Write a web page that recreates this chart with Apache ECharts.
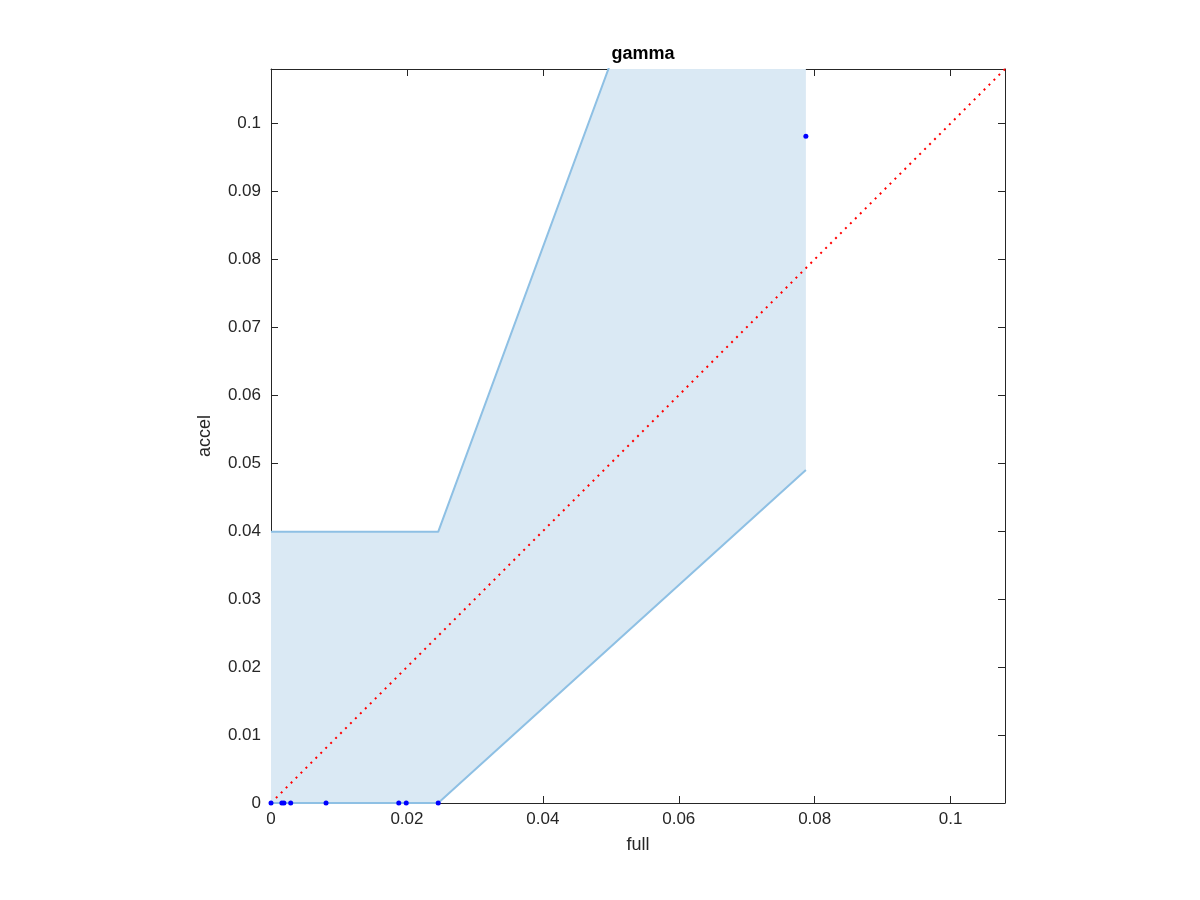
<!DOCTYPE html>
<html>
<head>
<meta charset="utf-8">
<script src="https://cdn.jsdelivr.net/npm/echarts@6/dist/echarts.min.js"></script>
<style>html,body{margin:0;padding:0;background:#fff}#c{width:1200px;height:900px}</style>
</head>
<body>
<div id="c"></div>
<script>
// Data
var pointsX = [0, 0.0016, 0.0019, 0.0029, 0.0081, 0.0188, 0.0199, 0.0246, 0.0787];
var pointsY = [0, 0, 0, 0, 0, 0, 0, 0, 0.0981];
var bandX = [0, 0.0246, 0.0787];
var bandLower = [0, 0, 0.049];
var bandUpper = [0.0399, 0.0399, 0.187];
var diagX = [0, 0.108];
var diagY = [0, 0.108];
var xTicks = [0, 0.02, 0.04, 0.06, 0.08, 0.1];
var yTicks = [0, 0.01, 0.02, 0.03, 0.04, 0.05, 0.06, 0.07, 0.08, 0.09, 0.1];

var AXMAX = 0.108;
var FONT = '"Liberation Sans", Arial, sans-serif';
var AXC = '#262626';
var BAND_LINE = '#8ec0e4';
var BAND_FILL = '#dae9f4';

function fmt(list) {
  return function (v) {
    for (var i = 0; i < list.length; i++) {
      if (Math.abs(v - list[i]) < 1e-9) return String(list[i]);
    }
    return '';
  };
}

function xAxis(pos, show) {
  return {
    type: 'value', position: pos, min: 0, max: AXMAX, interval: 0.02,
    name: show ? 'full' : '', nameLocation: 'middle', nameGap: 33,
    nameTextStyle: { fontFamily: FONT, fontSize: 18, color: AXC },
    axisLine: { show: true, onZero: false, lineStyle: { color: AXC, width: 1 } },
    axisTick: { show: true, inside: true, length: 7, lineStyle: { color: AXC } },
    axisLabel: { show: show, formatter: fmt(xTicks), fontFamily: FONT, fontSize: 17, color: AXC, margin: 8, showMaxLabel: false },
    splitLine: { show: false }
  };
}
function yAxis(pos, show) {
  return {
    type: 'value', position: pos, min: 0, max: AXMAX, interval: 0.01,
    name: show ? 'accel' : '', nameLocation: 'middle', nameGap: 57, nameRotate: 90,
    nameTextStyle: { fontFamily: FONT, fontSize: 18, color: AXC },
    axisLine: { show: true, onZero: false, lineStyle: { color: AXC, width: 1 } },
    axisTick: { show: true, inside: true, length: 7, lineStyle: { color: AXC } },
    axisLabel: { show: show, formatter: fmt(yTicks), fontFamily: FONT, fontSize: 17, color: AXC, margin: 10, showMaxLabel: false },
    splitLine: { show: false }
  };
}

function pairs(xs, ys) { return xs.map(function (x, i) { return [x, ys[i]]; }); }

var chart = echarts.init(document.getElementById('c'), null, { renderer: 'canvas' });
chart.setOption({
  backgroundColor: '#fff',
  animation: false,
  title: {
    text: 'gamma', left: 638, top: 40, textAlign: 'center',
    textStyle: { fontFamily: FONT, fontSize: 18, fontWeight: 'bold', color: '#000' }
  },
  grid: { left: 271, right: 195, top: 69, bottom: 97 },
  xAxis: [xAxis('bottom', true), xAxis('top', false)],
  yAxis: [yAxis('left', true), yAxis('right', false)],
  series: [
    {
      type: 'custom', name: 'bandFill', clip: true, z: 1,
      data: [0],
      renderItem: function (params, api) {
        var pts = [];
        for (var i = 0; i < bandX.length; i++) pts.push(api.coord([bandX[i], bandUpper[i]]));
        for (var j = bandX.length - 1; j >= 0; j--) pts.push(api.coord([bandX[j], bandLower[j]]));
        return {
          type: 'polygon',
          shape: { points: pts },
          style: { fill: BAND_FILL, stroke: null }
        };
      }
    },
    {
      type: 'line', name: 'upper', data: pairs(bandX, bandUpper),
      symbol: 'none', clip: true,
      lineStyle: { color: BAND_LINE, width: 2 }, z: 3
    },
    {
      type: 'line', name: 'lower', data: pairs(bandX, bandLower),
      symbol: 'none', clip: true,
      lineStyle: { color: BAND_LINE, width: 2 }, z: 3
    },
    {
      type: 'line', name: 'diag', data: pairs(diagX, diagY),
      symbol: 'none', clip: true,
      lineStyle: { color: '#ff0000', width: 2, type: [2, 5] }, z: 4
    },
    {
      type: 'scatter', name: 'pts', data: pairs(pointsX, pointsY),
      symbol: 'circle', symbolSize: 5, clip: false,
      itemStyle: { color: '#0000ff', opacity: 1 }, z: 5
    }
  ]
});
</script>
</body>
</html>
